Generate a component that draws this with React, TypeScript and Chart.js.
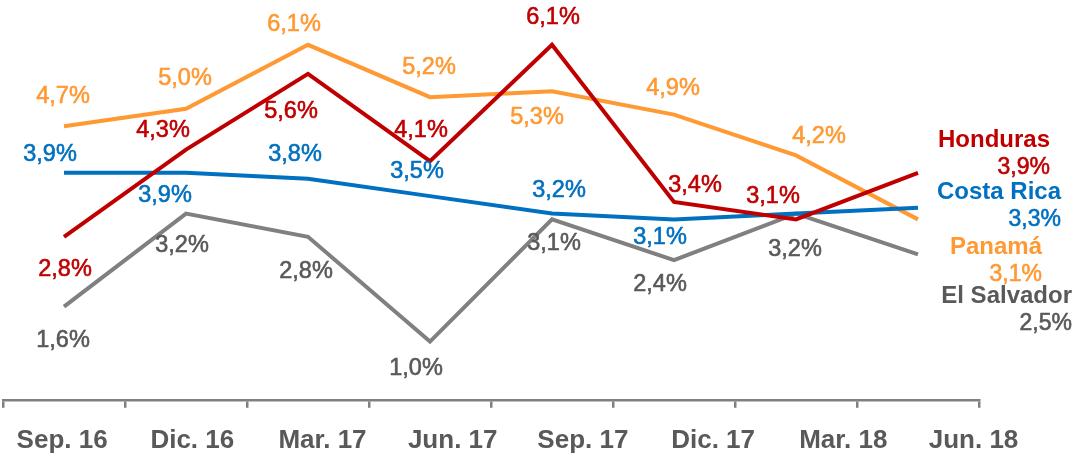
import React, { useEffect, useRef } from 'react';
import { Chart, registerables } from 'chart.js';

Chart.register(...registerables);

// ---------- data ----------
const CATEGORIES = ['Sep. 16', 'Dic. 16', 'Mar. 17', 'Jun. 17', 'Sep. 17', 'Dic. 17', 'Mar. 18', 'Jun. 18'];
const HONDURAS = [2.8, 4.3, 5.6, 4.1, 6.1, 3.4, 3.1, 3.9];
const COSTA_RICA = [3.9, 3.9, 3.8, 3.5, 3.2, 3.1, 3.2, 3.3];
const PANAMA = [4.7, 5.0, 6.1, 5.2, 5.3, 4.9, 4.2, 3.1];
const EL_SALVADOR = [1.6, 3.2, 2.8, 1.0, 3.1, 2.4, 3.2, 2.5];
const SERIES_NAMES = ['Honduras', 'Costa Rica', 'Panamá', 'El Salvador'];
// which points carry a value label (Costa Rica, Mar. 18 has none)
const SHOW_LABEL = [
  [true, true, true, true, true, true, true, true],
  [true, true, true, true, true, true, false, true],
  [true, true, true, true, true, true, true, true],
  [true, true, true, true, true, true, true, true],
];
const Y_MIN = 0;
const Y_MAX = 6.87;

// ---------- styles ----------
const FONT = '"Liberation Sans", Arial, Helvetica, sans-serif';
type Off = [number, number];
const STYLES: { line: string; text: string; offsets: Off[]; end: Off }[] = [
  {
    line: '#C00000', text: '#C00000',
    offsets: [[1, 39], [-23, -13], [-17, 44], [-9, -24], [1, -21], [21, -10], [-23, -16], [0, 0]],
    end: [132, -26],
  },
  {
    line: '#0070C0', text: '#0070C0',
    offsets: [[-14, -12], [-21, 29], [-13, -18], [-13, -18], [7, -17], [-14, 25], [0, 0], [0, 0]],
    end: [143, -9],
  },
  {
    line: '#FF9933', text: '#FF9933',
    offsets: [[-1, -23], [-1, -24], [-14, -14], [-1, -23], [-15, 33], [-1, -20], [23, -12], [0, 0]],
    end: [124, 35],
  },
  {
    line: '#808080', text: '#595959',
    offsets: [[-1, 40], [-4, 38], [-2, 41], [-14, 33], [2, 31], [-14, 31], [-1, 42], [0, 0]],
    end: [154, 49],
  },
];
const LABEL_SPREAD = 130.2 / 122; // tick labels are spaced wider than the categories
const LABEL_SHIFT = -6;

const fmt = (v: number) => v.toFixed(1).replace('.', ',') + '%';

const stretchLabels = {
  id: 'stretchLabels',
  afterLayout(chart: any) {
    const x = chart.scales.x;
    const x2 = chart.scales.x2;
    if (!x || !x2) return;
    const w = x.width * LABEL_SPREAD;
    x2.left = x.left + LABEL_SHIFT;
    x2.right = x2.left + w;
    x2.width = w;
    x2.configure();
  },
};

const drawText = (ctx: CanvasRenderingContext2D, t: string, x: number, y: number, color: string) => {
  ctx.fillStyle = color;
  ctx.strokeStyle = color;
  ctx.lineWidth = 0.6;
  ctx.fillText(t, x, y);
  ctx.strokeText(t, x, y);
};

const valueLabels = {
  id: 'valueLabels',
  afterDatasetsDraw(chart: any) {
    const ctx = chart.ctx;
    chart.data.datasets.forEach((ds: any, di: number) => {
      const meta = chart.getDatasetMeta(di);
      const st = STYLES[di];
      const last = meta.data.length - 1;
      meta.data.forEach((pt: any, i: number) => {
        const txt = fmt(ds.data[i]);
        ctx.save();
        ctx.textBaseline = 'alphabetic';
        if (i === last) {
          ctx.textAlign = 'right';
          ctx.font = `bold 24px ${FONT}`;
          ctx.fillStyle = st.text;
          ctx.fillText(ds.label, pt.x + st.end[0], pt.y + st.end[1]);
          ctx.font = `23px ${FONT}`;
          drawText(ctx, txt, pt.x + st.end[0], pt.y + st.end[1] + 27, st.text);
        } else if (SHOW_LABEL[di][i]) {
          ctx.textAlign = 'center';
          ctx.font = `23.5px ${FONT}`;
          drawText(ctx, txt, pt.x + st.offsets[i][0], pt.y + st.offsets[i][1], st.text);
        }
        ctx.restore();
      });
    });
  },
};

export default function App() {
  const ref = useRef<HTMLCanvasElement | null>(null);
  useEffect(() => {
    if (!ref.current) return;
    const series = [HONDURAS, COSTA_RICA, PANAMA, EL_SALVADOR];
    const chart = new Chart(ref.current, {
      type: 'line',
      data: {
        labels: CATEGORIES,
        datasets: series.map((d, i) => ({
          label: SERIES_NAMES[i],
          data: d,
          borderColor: STYLES[i].line,
          backgroundColor: STYLES[i].line,
          borderWidth: 4,
          pointRadius: 0,
          pointHoverRadius: 0,
          tension: 0,
          fill: false,
          xAxisID: 'x',
          yAxisID: 'y',
        })),
      },
      options: {
        animation: false,
        responsive: false,
        maintainAspectRatio: false,
        events: [],
        layout: { padding: { left: 3, right: 97, top: 0, bottom: -12 } },
        plugins: { legend: { display: false }, tooltip: { enabled: false }, title: { display: false } },
        scales: {
          x: {
            type: 'category',
            offset: true,
            grid: {
              display: true,
              drawOnChartArea: false,
              drawTicks: true,
              tickLength: 8,
              color: '#808080',
              lineWidth: 2.5,
              offset: true,
            },
            border: { display: true, color: '#808080', width: 2.5 },
            ticks: { display: false },
          },
          x2: {
            type: 'category',
            position: 'bottom',
            labels: CATEGORIES,
            offset: true,
            grid: { display: false, drawTicks: false, tickLength: 0 },
            border: { display: false },
            ticks: {
              display: true,
              autoSkip: false,
              maxRotation: 0,
              minRotation: 0,
              padding: 17,
              color: '#595959',
              font: { family: FONT, size: 26, weight: 'bold' },
            },
          },
          y: { display: false, min: Y_MIN, max: Y_MAX },
        },
      },
      plugins: [stretchLabels, valueLabels],
    } as any);
    return () => chart.destroy();
  }, []);
  return (
    <div style={{ position: 'fixed', left: 0, top: 0, width: 1076, height: 461, background: '#fff' }}>
      <canvas ref={ref} width={1076} height={461} style={{ width: 1076, height: 461, display: 'block' }} />
    </div>
  );
}
